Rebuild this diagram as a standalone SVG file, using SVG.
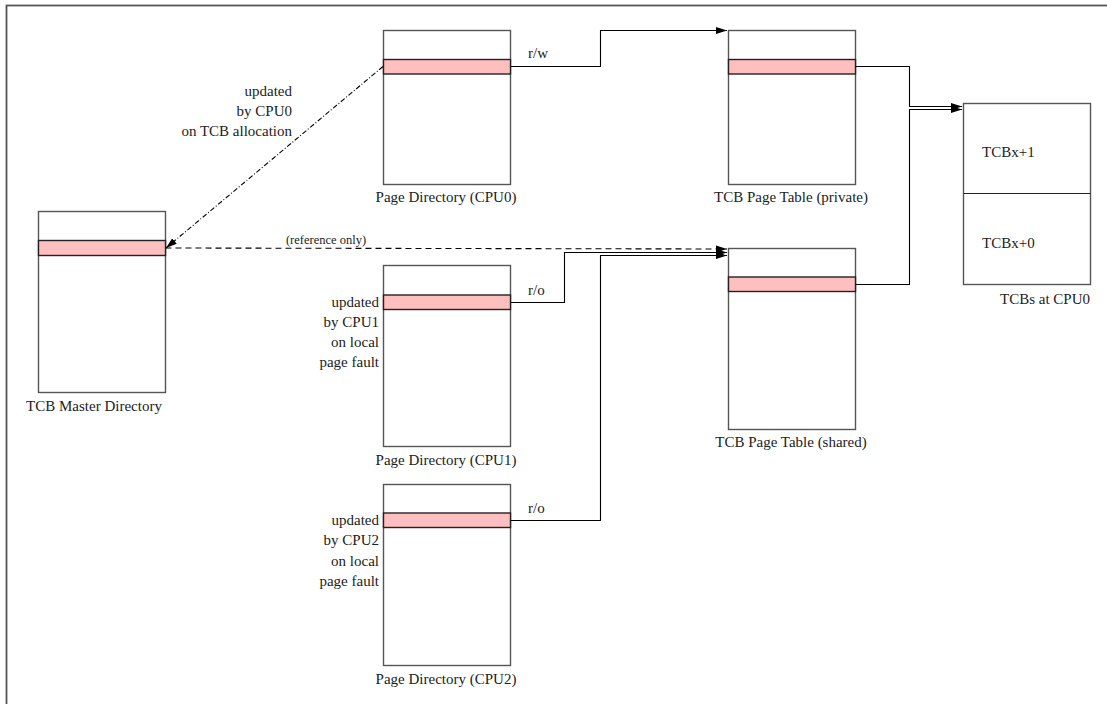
<svg xmlns="http://www.w3.org/2000/svg" width="1107" height="704" viewBox="0 0 1107 704">
<style>
.box{fill:#fff;stroke:#555;stroke-width:1.4}
.row{fill:#ffbfbf;stroke:#222;stroke-width:1.4}
.ln{fill:none;stroke:#000;stroke-width:1.1}
text{font-family:"Liberation Serif","Times New Roman",serif;font-size:15px;fill:#222}
.c{text-anchor:middle}
.r{text-anchor:end}
.sm{font-size:12.5px}
</style>
<defs>
<marker id="ah" viewBox="0 0 11 7" refX="11" refY="3.5" markerWidth="11" markerHeight="7" markerUnits="userSpaceOnUse" orient="auto">
<path d="M0,0 L11,3.5 L0,7 Z" fill="#000"/>
</marker>
</defs>
<rect x="6.5" y="5.5" width="1200" height="800" fill="#fff" stroke="#555" stroke-width="1.8"/>

<g id="master">
<rect class="box" x="38.5" y="211.5" width="127" height="181"/>
<rect class="row" x="38.5" y="240.5" width="127" height="15"/>
<text class="c" x="94" y="411">TCB Master Directory</text>
</g>

<g id="pd0">
<rect class="box" x="383.5" y="30.5" width="127" height="154"/>
<rect class="row" x="383.5" y="59.5" width="127" height="14.5"/>
<text class="c" x="446" y="202">Page Directory (CPU0)</text>
</g>

<g id="pd1">
<rect class="box" x="383.5" y="265.5" width="127" height="181"/>
<rect class="row" x="383.5" y="295" width="127" height="14.5"/>
<text class="c" x="446" y="465">Page Directory (CPU1)</text>
<text class="r" x="379" y="307">updated</text>
<text class="r" x="379" y="327">by CPU1</text>
<text class="r" x="379" y="347">on local</text>
<text class="r" x="379" y="367">page fault</text>
</g>

<g id="pd2">
<rect class="box" x="383.5" y="484.5" width="127" height="181"/>
<rect class="row" x="383.5" y="513" width="127" height="14.5"/>
<text class="c" x="446" y="684">Page Directory (CPU2)</text>
<text class="r" x="379" y="525">updated</text>
<text class="r" x="379" y="545">by CPU2</text>
<text class="r" x="379" y="566">on local</text>
<text class="r" x="379" y="586">page fault</text>
</g>

<g id="ptpriv">
<rect class="box" x="728.5" y="30.5" width="127" height="154"/>
<rect class="row" x="728.5" y="59.5" width="127" height="14.5"/>
<text class="c" x="791" y="202">TCB Page Table (private)</text>
</g>

<g id="ptshared">
<rect class="box" x="728.5" y="248.5" width="127" height="181"/>
<rect class="row" x="728.5" y="277" width="127" height="14.5"/>
<text class="c" x="791" y="447">TCB Page Table (shared)</text>
</g>

<g id="tcbs">
<rect class="box" x="963.5" y="103.5" width="127" height="181"/>
<line x1="963.5" y1="193.5" x2="1090.5" y2="193.5" stroke="#222" stroke-width="1.2"/>
<text x="982" y="157">TCBx+1</text>
<text x="982" y="248">TCBx+0</text>
<text class="c" x="1045" y="304">TCBs at CPU0</text>
</g>

<g id="connectors">
<polyline class="ln" points="510.5,66.5 600.5,66.5 600.5,30.5 727,30.5" marker-end="url(#ah)"/>
<text x="528" y="58">r/w</text>
<polyline class="ln" points="855.5,66.5 909.5,66.5 909.5,106.5 962,106.5" marker-end="url(#ah)"/>
<polyline class="ln" points="855.5,284.5 909.5,284.5 909.5,109.5 962,109.5" marker-end="url(#ah)"/>
<polyline class="ln" points="510.5,302.5 564.5,302.5 564.5,252.5 727,252.5" marker-end="url(#ah)"/>
<text x="528" y="295">r/o</text>
<polyline class="ln" points="510.5,520.5 600.5,520.5 600.5,255.5 727,255.5" marker-end="url(#ah)"/>
<text x="528" y="513">r/o</text>
<line class="ln" x1="165.5" y1="248" x2="727" y2="249" stroke="#555" stroke-dasharray="6,4" marker-end="url(#ah)"/>
<text class="c sm" x="326" y="244">(reference only)</text>
<line class="ln" x1="383" y1="66.5" x2="166" y2="248" stroke-dasharray="5,2,1,2" marker-end="url(#ah)"/>
<text class="r" x="292" y="96">updated</text>
<text class="r" x="292" y="116">by CPU0</text>
<text class="r" x="292" y="136">on TCB allocation</text>
</g>
</svg>
